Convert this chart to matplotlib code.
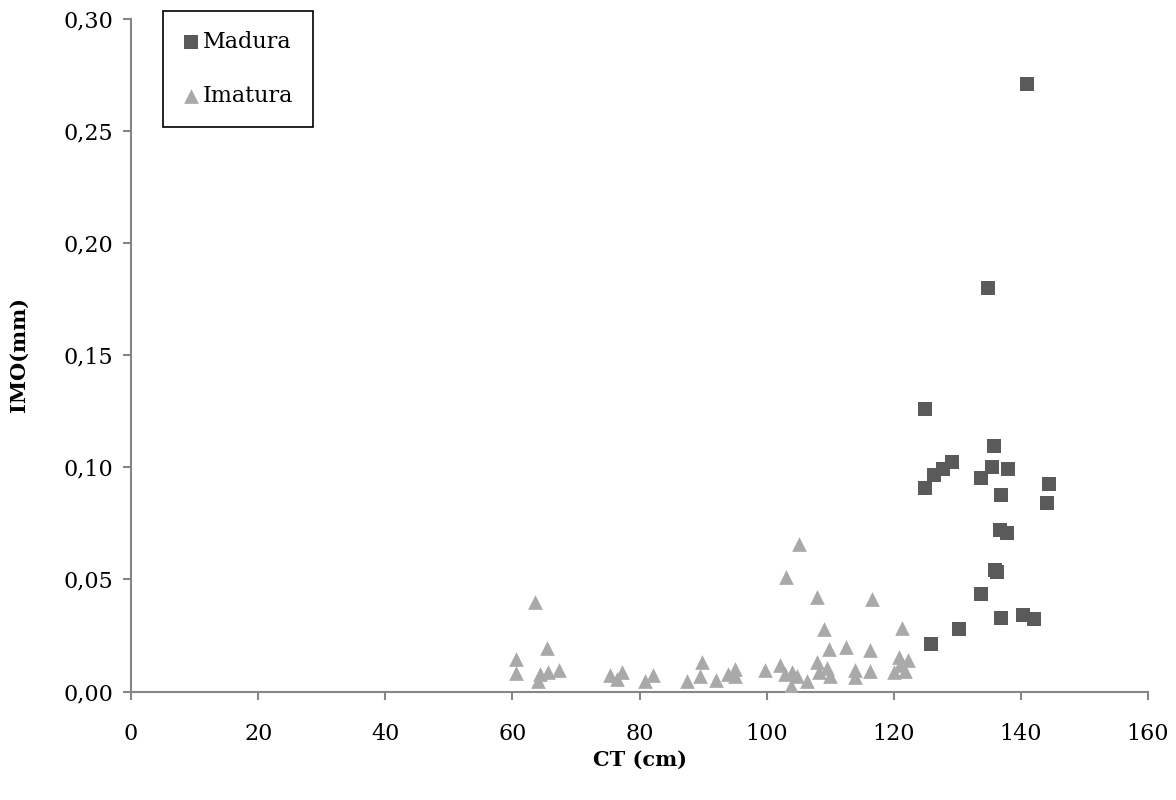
import matplotlib
matplotlib.use("Agg")
import matplotlib.pyplot as plt
from matplotlib.ticker import FuncFormatter

# Madura (mature)
ct_madura = [141.0, 134.8, 124.9, 135.8, 129.1, 127.7, 126.4, 124.9, 135.4, 138.0,
             133.8, 144.5, 136.8, 144.1, 136.7, 137.8, 136.0, 136.3, 133.8, 136.8,
             140.3, 142.0, 130.2, 125.9]
imo_madura = [0.271, 0.180, 0.1262, 0.1094, 0.1024, 0.0994, 0.0967, 0.0908, 0.1001, 0.0993,
              0.0954, 0.0927, 0.0875, 0.0839, 0.0719, 0.0705, 0.0540, 0.0531, 0.0433, 0.0329,
              0.0341, 0.0324, 0.0280, 0.0210]

# Imatura (immature)
ct_imatura = [60.6, 60.6, 63.6, 64.3, 64.1, 65.4, 65.6, 67.4, 75.3, 77.2,
              76.5, 80.9, 82.1, 87.5, 89.5, 89.9, 92.0, 94.0, 95.0, 95.0,
              99.8, 102.1, 102.9, 103.1, 103.8, 104.0, 104.8, 105.1, 106.3, 107.9,
              108.0, 108.2, 109.1, 109.5, 109.8, 110.0, 112.5, 113.9, 113.9, 116.3,
              116.3, 116.6, 120.0, 120.9, 121.0, 121.3, 121.8, 122.3]
imo_imatura = [0.0146, 0.0082, 0.0400, 0.0079, 0.0046, 0.0195, 0.0086, 0.0097, 0.0073, 0.0085,
               0.0054, 0.0049, 0.0073, 0.0048, 0.0071, 0.0132, 0.0050, 0.0076, 0.0100, 0.0071,
               0.0094, 0.0120, 0.0080, 0.0510, 0.0025, 0.0089, 0.0069, 0.0656, 0.0046, 0.0423,
               0.0130, 0.0085, 0.0281, 0.0106, 0.0188, 0.0068, 0.0198, 0.0094, 0.0066, 0.0092,
               0.0186, 0.0413, 0.0087, 0.0153, 0.0120, 0.0282, 0.0091, 0.0142]

x_ticks = [0, 20, 40, 60, 80, 100, 120, 140, 160]
y_ticks = [0.00, 0.05, 0.10, 0.15, 0.20, 0.25, 0.30]

plt.rcParams['font.family'] = ['DejaVu Serif']
axis_grey = '#868686'

fig = plt.figure(figsize=(11.76, 8), dpi=100)
ax = fig.add_axes([131 / 1176, 108.5 / 800, (1148 - 131) / 1176, (691.5 - 19) / 800])

ax.scatter(ct_madura, imo_madura, marker='s', s=112, color='#5a5a5a',
           linewidths=0, label='Madura', zorder=3)
ax.scatter(ct_imatura, imo_imatura, marker='^', s=112, color='#a9a9a9',
           linewidths=0, label='Imatura', zorder=3)

ax.set_xlim(0, 160)
ax.set_ylim(0, 0.30)
ax.set_xticks(x_ticks)
ax.set_yticks(y_ticks)
ax.yaxis.set_major_formatter(FuncFormatter(lambda v, p: f"{v:.2f}".replace('.', ',')))
ax.xaxis.set_major_formatter(FuncFormatter(lambda v, p: f"{v:.0f}"))

for side in ['top', 'right']:
    ax.spines[side].set_visible(False)
for side in ['left', 'bottom']:
    ax.spines[side].set_color(axis_grey)
    ax.spines[side].set_linewidth(1.5)

ax.tick_params(axis='both', direction='out', length=6, width=1.5, color=axis_grey,
               labelsize=16, labelcolor='black')
ax.tick_params(axis='x', pad=17)
ax.tick_params(axis='y', pad=7)

fig.text(640 / 1176, 1 - 760 / 800, 'CT (cm)', ha='center', va='center',
         fontsize=15, fontweight='bold')
fig.text(19 / 1176, 1 - 355 / 800, 'IMO(mm)', ha='center', va='center',
         rotation=90, fontsize=15, fontweight='bold')

leg = ax.legend(loc='upper left', bbox_to_anchor=(163 / 1176, 1 - 11 / 800),
                bbox_transform=fig.transFigure, fontsize=16, frameon=True,
                fancybox=False, edgecolor='black', framealpha=1,
                borderpad=0.9, labelspacing=1.45, handlelength=0.7,
                handletextpad=0.2, borderaxespad=0, scatterpoints=1)
leg.get_frame().set_linewidth(1.2)

fig.savefig('out.png', dpi=100)
